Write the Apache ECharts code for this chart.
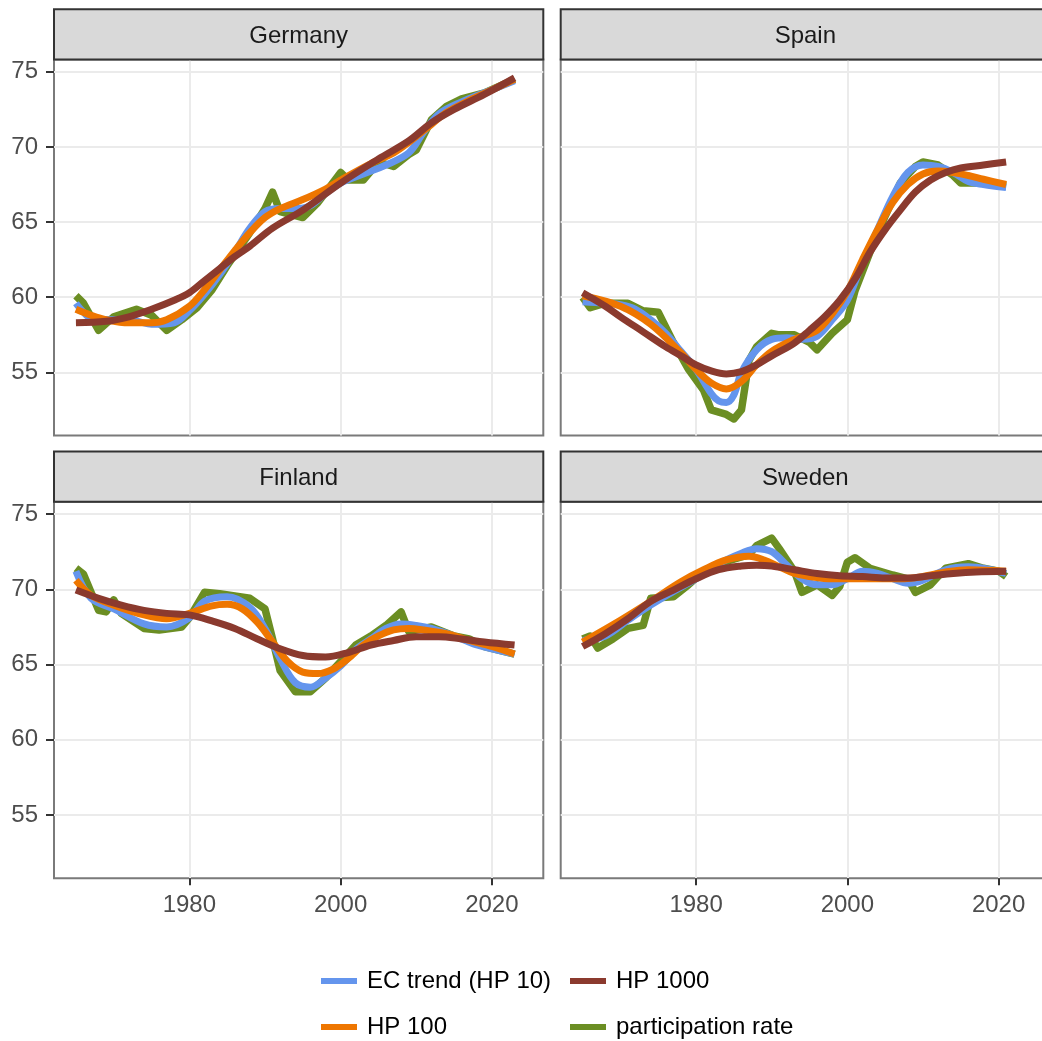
<!DOCTYPE html>
<html>
<head>
<meta charset="utf-8">
<script src="https://cdn.jsdelivr.net/npm/echarts@6/dist/echarts.min.js"></script>
<style>
html,body{margin:0;padding:0;background:#fff;}
#chart{width:1042px;height:1041px;}
</style>
</head>
<body>
<div id="chart"></div>
<script>
// ---- data ----
const countries = ['Germany', 'Spain', 'Finland', 'Sweden'];
const seriesNames = ['participation rate', 'EC trend (HP 10)', 'HP 100', 'HP 1000'];
const xTicks = [1980, 2000, 2020];
const yTicks = [55, 60, 65, 70, 75];

const deRate = [[1965,60.1],[1966,59.6],[1968,57.8],[1970,58.7],[1973,59.2],[1975,58.8],[1977,57.8],[1979,58.5],[1981,59.3],[1983,60.5],[1985,62.1],[1988,64.3],[1990,65.9],[1991,67.0],[1992,65.7],[1995,65.3],[1997,66.3],[2000,68.3],[2001,67.8],[2003,67.8],[2005,69.0],[2007,68.7],[2009,69.5],[2010,69.8],[2012,71.8],[2014,72.7],[2016,73.2],[2019,73.6],[2023,74.5]];
const deHP10 = [[1965,59.6],[1966,59.0],[1967,58.6],[1970,58.5],[1973,58.4],[1975,58.2],[1978,58.3],[1980,59.1],[1982,60.2],[1984,61.5],[1986,63.0],[1988,64.6],[1990,65.7],[1992,65.9],[1994,65.9],[1996,66.1],[1998,66.9],[2000,67.6],[2003,68.2],[2006,68.8],[2009,69.6],[2011,71.0],[2013,72.2],[2016,73.0],[2020,73.8],[2023,74.4]];
const deHP100 = [[1965,59.2],[1967,58.8],[1969,58.5],[1972,58.3],[1975,58.3],[1977,58.5],[1980,59.4],[1982,60.5],[1984,61.8],[1986,63.1],[1988,64.3],[1990,65.3],[1992,65.9],[1995,66.5],[1998,67.2],[2000,67.8],[2004,68.9],[2007,69.6],[2009,70.3],[2012,71.5],[2014,72.3],[2017,73.1],[2020,73.8],[2023,74.5]];
const deHP1000 = [[1965,58.3],[1969,58.4],[1972,58.7],[1975,59.2],[1978,59.8],[1980,60.3],[1982,61.1],[1984,61.9],[1986,62.7],[1988,63.4],[1991,64.6],[1995,65.8],[2000,67.6],[2005,69.2],[2009,70.4],[2012,71.6],[2015,72.5],[2019,73.5],[2023,74.6]];

const esRate = [[1965,60.0],[1966,59.3],[1968,59.6],[1971,59.6],[1973,59.1],[1975,59.0],[1977,57.0],[1979,55.2],[1981,53.8],[1982,52.5],[1984,52.2],[1985,51.9],[1986,52.5],[1987,55.8],[1988,56.7],[1990,57.6],[1991,57.5],[1993,57.5],[1995,57.0],[1996,56.5],[1998,57.6],[2000,58.5],[2001,60.4],[2003,63.0],[2005,65.4],[2007,67.6],[2009,68.7],[2010,69.0],[2012,68.8],[2014,68.1],[2015,67.6],[2018,67.6],[2021,67.4]];
const esHP10 = [[1965,59.7],[1968,59.6],[1970,59.5],[1972,59.2],[1974,58.5],[1976,57.6],[1978,56.4],[1980,55.2],[1982,53.6],[1983,53.1],[1984,53.0],[1985,53.5],[1986,55.0],[1988,56.5],[1990,57.2],[1992,57.3],[1994,57.2],[1996,57.4],[1998,58.5],[2000,59.8],[2002,62.3],[2004,64.5],[2006,66.7],[2008,68.3],[2010,68.8],[2012,68.7],[2014,68.3],[2016,67.7],[2018,67.5],[2021,67.3]];
const esHP100 = [[1965,60.1],[1970,59.4],[1974,58.2],[1978,56.3],[1980,55.2],[1982,54.3],[1984,53.9],[1986,54.4],[1988,55.5],[1990,56.4],[1993,57.2],[1996,57.8],[1998,58.9],[2000,60.4],[2002,62.5],[2004,64.5],[2006,66.3],[2008,67.5],[2010,68.2],[2012,68.4],[2014,68.3],[2016,68.1],[2018,67.85],[2021,67.5]];
const esHP1000 = [[1965,60.3],[1968,59.4],[1970,58.7],[1973,57.7],[1976,56.7],[1978,56.1],[1980,55.5],[1982,55.1],[1984,54.9],[1986,55.05],[1988,55.5],[1990,56.1],[1993,56.95],[1995,57.8],[1997,58.7],[1999,59.8],[2001,61.2],[2003,63.0],[2005,64.5],[2007,65.8],[2009,67.0],[2011,67.8],[2013,68.3],[2015,68.6],[2018,68.8],[2021,69.0]];

const fiRate = [[1965,71.4],[1966,71.0],[1968,68.6],[1969,68.5],[1970,69.3],[1971,68.4],[1974,67.4],[1976,67.3],[1979,67.5],[1980,68.1],[1982,69.8],[1984,69.7],[1988,69.4],[1990,68.7],[1991,66.7],[1992,64.6],[1994,63.2],[1996,63.2],[1998,64.1],[2000,65.2],[2002,66.3],[2004,66.9],[2006,67.6],[2008,68.5],[2009,67.2],[2012,67.5],[2015,66.9],[2017,66.7],[2019,66.2],[2023,65.7]];
const fiHP10 = [[1965,71.2],[1967,69.4],[1970,68.7],[1974,67.7],[1977,67.5],[1980,68.1],[1982,69.2],[1985,69.5],[1988,68.8],[1990,67.4],[1992,65.4],[1994,63.8],[1996,63.5],[1998,64.1],[2000,64.9],[2002,66.0],[2004,66.7],[2006,67.4],[2008,67.7],[2010,67.6],[2012,67.4],[2015,66.9],[2018,66.3],[2023,65.7]];
const fiHP100 = [[1965,70.6],[1967,69.6],[1970,68.95],[1974,68.3],[1977,68.05],[1980,68.4],[1983,68.9],[1985,69.0],[1987,68.7],[1989,67.8],[1991,66.5],[1993,65.2],[1995,64.5],[1997,64.4],[1999,64.7],[2001,65.4],[2003,66.3],[2005,66.9],[2007,67.3],[2009,67.4],[2011,67.3],[2014,67.05],[2017,66.6],[2020,66.2],[2023,65.7]];
const fiHP1000 = [[1965,69.95],[1968,69.4],[1971,68.95],[1974,68.6],[1977,68.4],[1980,68.3],[1983,67.9],[1986,67.4],[1989,66.7],[1992,66.05],[1995,65.6],[1998,65.5],[2001,65.8],[2004,66.3],[2007,66.6],[2010,66.85],[2013,66.85],[2016,66.7],[2019,66.5],[2023,66.3]];

const seRate = [[1965,66.7],[1966,66.9],[1967,66.1],[1969,66.7],[1971,67.4],[1973,67.6],[1974,69.4],[1977,69.5],[1979,70.3],[1981,71.2],[1984,71.85],[1987,72.3],[1988,72.9],[1990,73.4],[1991,72.7],[1993,71.2],[1994,69.8],[1996,70.3],[1998,69.6],[1999,70.2],[2000,71.8],[2001,72.1],[2003,71.4],[2006,70.95],[2008,70.7],[2009,69.8],[2011,70.3],[2013,71.4],[2016,71.7],[2018,71.4],[2020,71.2],[2021,70.85]];
const seHP10 = [[1965,66.6],[1968,66.9],[1971,67.95],[1974,68.95],[1977,69.85],[1980,70.7],[1983,71.7],[1986,72.4],[1988,72.7],[1990,72.5],[1992,71.6],[1994,70.7],[1996,70.3],[1998,70.3],[2000,70.7],[2002,71.2],[2004,71.05],[2006,70.7],[2008,70.4],[2010,70.6],[2013,71.3],[2016,71.5],[2019,71.3],[2021,71.05]];
const seHP100 = [[1965,66.5],[1970,67.95],[1974,69.2],[1978,70.5],[1981,71.3],[1984,71.95],[1987,72.2],[1989,71.95],[1991,71.5],[1993,71.05],[1995,70.85],[1998,70.7],[2001,70.7],[2004,70.7],[2007,70.7],[2010,70.85],[2013,71.15],[2016,71.3],[2021,71.2]];
const seHP1000 = [[1965,66.2],[1968,67.05],[1971,68.05],[1974,69.2],[1977,69.95],[1980,70.7],[1983,71.3],[1986,71.55],[1988,71.6],[1990,71.55],[1993,71.3],[1996,71.05],[1999,70.9],[2002,70.85],[2005,70.75],[2008,70.75],[2011,70.9],[2014,71.05],[2017,71.15],[2021,71.2]];

const panelData = [
  [deRate, deHP10, deHP100, deHP1000],
  [esRate, esHP10, esHP100, esHP1000],
  [fiRate, fiHP10, fiHP100, fiHP1000],
  [seRate, seHP10, seHP100, seHP1000]
];

// ---- styling / layout ----
const colors = {
  'participation rate': '#6b8e23',
  'EC trend (HP 10)': '#6495ed',
  'HP 100': '#ee7600',
  'HP 1000': '#8b3a2e'
};
const X_MIN = 1962.1, X_MAX = 2026.8;
const Y_MIN = 50.8, Y_MAX = 75.82;
const FONT = 'Liberation Sans, Arial, sans-serif';
const panels = [
  {left: 54, top: 59.5, w: 489.3, h: 376, xl: false, yl: true},
  {left: 560.7, top: 59.5, w: 489.3, h: 376, xl: false, yl: false},
  {left: 54, top: 501.7, w: 489.3, h: 376.6, xl: true, yl: true},
  {left: 560.7, top: 501.7, w: 489.3, h: 376.6, xl: true, yl: false}
];
const stripH = 50.2;

const grid = [], xAxis = [], yAxis = [], series = [], graphic = [];
panels.forEach((p, i) => {
  grid.push({left: p.left, top: p.top, width: p.w, height: p.h, show: true,
    borderColor: '#7a7a7a', borderWidth: 2, backgroundColor: '#fff',
    containLabel: false, outerBoundsMode: 'none'});
  xAxis.push({type: 'value', gridIndex: i, min: X_MIN, max: X_MAX,
    axisLine: {show: false},
    axisTick: {show: p.xl, length: 7, lineStyle: {color: '#333', width: 2}, customValues: xTicks},
    axisLabel: {show: p.xl, customValues: xTicks, fontSize: 24, color: '#4d4d4d', margin: 15, fontFamily: FONT,
      formatter: v => String(v)},
    splitLine: {show: true, lineStyle: {color: '#ebebeb', width: 2}}
  });
  yAxis.push({type: 'value', gridIndex: i, min: Y_MIN, max: Y_MAX,
    axisLine: {show: false},
    axisTick: {show: p.yl, length: 8, lineStyle: {color: '#333', width: 2}, customValues: yTicks},
    axisLabel: {show: p.yl, customValues: yTicks, fontSize: 24, color: '#4d4d4d', margin: 16, fontFamily: FONT,
      formatter: v => String(v)},
    splitLine: {show: true, lineStyle: {color: '#ebebeb', width: 2}}
  });
  seriesNames.forEach((name, k) => {
    series.push({
      name: name, type: 'line', xAxisIndex: i, yAxisIndex: i,
      data: panelData[i][k], symbol: 'none', showSymbol: false,
      smooth: k === 0 ? false : 0.35,
      lineStyle: {color: colors[name], width: k === 0 ? 7.5 : 7, cap: 'butt', join: 'round'},
      itemStyle: {color: colors[name]},
      z: 2 + k, animation: false
    });
  });
  graphic.push({type: 'rect', shape: {x: p.left, y: p.top - stripH, width: p.w, height: stripH},
    style: {fill: '#d9d9d9', stroke: '#333', lineWidth: 2}, z: 10});
  graphic.push({type: 'text', x: p.left + p.w / 2, y: p.top - stripH / 2 + 2,
    style: {text: countries[i], font: '24px ' + FONT, fill: '#1a1a1a', align: 'center', verticalAlign: 'middle'}, z: 11});
});

const legendCommon = {orient: 'vertical', icon: 'rect', itemWidth: 36, itemHeight: 6, itemGap: 18,
  textStyle: {fontSize: 24, color: '#000', fontFamily: FONT, lineHeight: 28, padding: [0, 0, 0, 5]},
  selectedMode: false, padding: 0};
const legend = [
  Object.assign({}, legendCommon, {left: 321, top: 967, data: ['EC trend (HP 10)', 'HP 100']}),
  Object.assign({}, legendCommon, {left: 570, top: 967, data: ['HP 1000', 'participation rate']})
];

const chart = echarts.init(document.getElementById('chart'), null, {renderer: 'canvas'});
chart.setOption({
  backgroundColor: '#fff',
  animation: false,
  textStyle: {fontFamily: FONT},
  grid, xAxis, yAxis, series, legend, graphic
});
</script>
</body>
</html>
